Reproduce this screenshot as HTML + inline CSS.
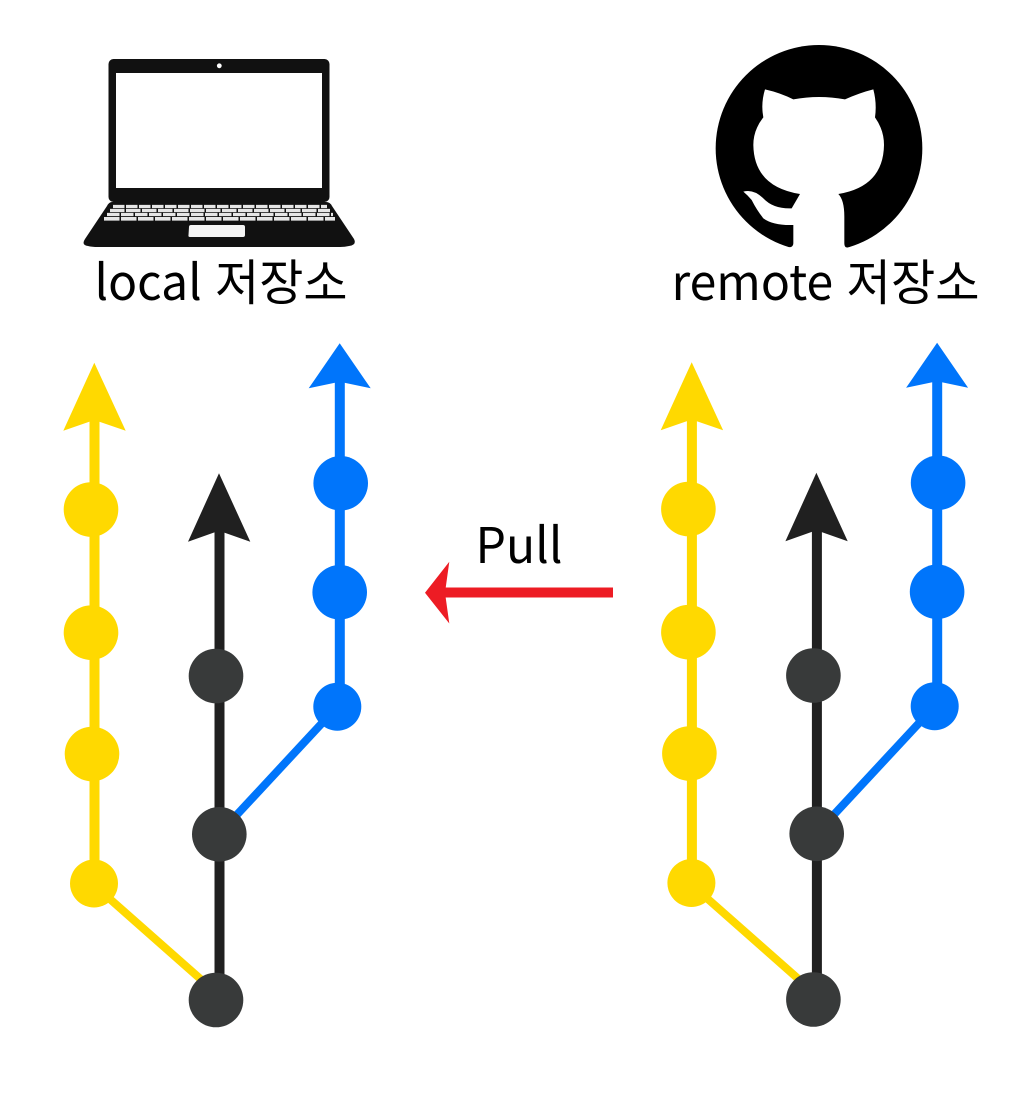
<!DOCTYPE html>
<html lang="ko">
<head>
<meta charset="utf-8">
<title>Pull diagram</title>
<style>
html,body{margin:0;padding:0;background:#fff;width:1024px;height:1104px;overflow:hidden}
svg{display:block}
text{font-family:"Liberation Sans","Noto Sans CJK KR",sans-serif}
.t{font-family:"Noto Sans CJK KR","Liberation Sans",sans-serif;font-size:49px;font-weight:400;fill:#000}
</style>
</head>
<body>
<svg width="1024" height="1104" viewBox="0 0 1024 1104" xmlns="http://www.w3.org/2000/svg">
<defs>
<g id="graph">
  <!-- lines -->
  <line x1="94.5" y1="415" x2="94.5" y2="884" stroke="#ffd900" stroke-width="10"/>
  <line x1="94" y1="885" x2="205" y2="983" stroke="#ffd900" stroke-width="8"/>
  <line x1="339.8" y1="375" x2="339.8" y2="707" stroke="#0075fb" stroke-width="10"/>
  <line x1="337" y1="707" x2="219" y2="834" stroke="#0075fb" stroke-width="8"/>
  <line x1="219.5" y1="525" x2="219.5" y2="1000" stroke="#202020" stroke-width="10"/>
  <!-- arrowheads -->
  <polygon points="94.3,362.7 63.3,430.7 94.3,420 125.7,430.7" fill="#ffd900"/>
  <polygon points="219,473.3 188,541.7 219,530.7 250.3,541.7" fill="#202020"/>
  <polygon points="339.7,343.3 308.7,388.3 339.7,381.7 370.7,388.3" fill="#0075fb"/>
  <!-- nodes -->
  <g fill="#ffd900">
    <circle cx="91" cy="509.5" r="27.3"/>
    <circle cx="91" cy="632.7" r="27.3"/>
    <circle cx="92" cy="754" r="27.3"/>
    <circle cx="94" cy="883.5" r="24"/>
  </g>
  <g fill="#0075fb">
    <circle cx="340.7" cy="483.3" r="27.3"/>
    <circle cx="339.7" cy="592.3" r="27.3"/>
    <circle cx="337.3" cy="706.7" r="24"/>
  </g>
  <g fill="#383a3a">
    <circle cx="216" cy="676" r="27.3"/>
    <circle cx="219.3" cy="834.3" r="27.3"/>
    <circle cx="216" cy="1000" r="27.3"/>
  </g>
</g>
</defs>

<rect width="1024" height="1104" fill="#fff"/>

<!-- Laptop -->
<rect x="108.5" y="59" width="221" height="143" rx="5" fill="#111"/>
<rect x="116" y="73" width="206" height="115" fill="#fff"/>
<circle cx="219.3" cy="65.8" r="2.4" fill="#fff"/>
<path d="M112,202 L326,202 Q330,202 332,206 L354,239 Q357,245 349,246 Q345,247 340,247 L98,247 Q92,247 88,246 Q81,245 85,239 L107,206 Q109,202 112,202 Z" fill="#111"/>
<g fill="none" stroke="#e6e6e6">
  <line x1="113" y1="206.5" x2="327" y2="206.5" stroke-width="3.3" stroke-dasharray="11.500 1.500"/>
  <line x1="110" y1="210.5" x2="330" y2="210.5" stroke-width="3.3" stroke-dasharray="14.500 1.500"/>
  <line x1="107" y1="214.5" x2="333" y2="214.5" stroke-width="3.3" stroke-dasharray="12.500 1.500"/>
  <line x1="104" y1="218.8" x2="335" y2="218.8" stroke-width="3.6" stroke-dasharray="15.500 1.500"/>
</g>
<path d="M191,225 L243,225 Q245,225 245,227 L245,235 Q245,237 243,237 L190,237 Q188,237 188.500,235 L189,227 Q189,225 191,225 Z" fill="#f4f4f4"/>

<!-- GitHub -->
<g transform="translate(660 30) scale(0.33333)">
  <circle cx="477" cy="355" r="310" fill="#000"/>
  <path d="M315,178 Q360,188 400,208 Q477,194 555,208 Q600,188 640,178 Q651,220 645,262 Q672,300 672,345 Q670,470 535,492 Q553,510 553,560 L553,640 Q553,655 565,652 L565,680 L385,680 L385,652 Q400,652 400,640 L400,585 Q340,587 310,565 Q290,540 275,510 Q262,495 250,485 Q280,476 310,505 Q340,537 395,535 Q405,518 420,492 Q282,470 280,345 Q280,300 310,262 Q302,220 315,178 Z" fill="#fff"/>
</g>

<!-- Labels -->
<text class="t" x="94.500" y="300" textLength="253" lengthAdjust="spacingAndGlyphs">local 저장소</text>
<text class="t" x="671.500" y="300" textLength="308" lengthAdjust="spacingAndGlyphs">remote 저장소</text>
<text class="t" x="475.500" y="563" textLength="87" lengthAdjust="spacingAndGlyphs">Pull</text>

<!-- Pull arrow -->
<rect x="444" y="587.500" width="169" height="10" fill="#ed1c24"/>
<polygon points="425,592.700 449.300,561.700 445,592.700 449.300,623.500" fill="#ed1c24"/>

<!-- Graphs -->
<use href="#graph"/>
<use href="#graph" transform="translate(597.4 -0.5)"/>
</svg>
</body>
</html>
